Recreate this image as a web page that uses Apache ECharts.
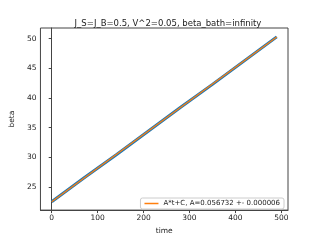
<!DOCTYPE html>
<html><head><meta charset="utf-8">
<script src="https://cdn.jsdelivr.net/npm/echarts@6/dist/echarts.min.js"></script>
<style>html,body{margin:0;padding:0;background:#fff}#c{width:320px;height:240px}</style>
</head><body><div id="c"></div>
<script>
var times = [0, 70, 140, 210, 280, 350, 420, 490];
var betaValues = [22.5, 26.5, 30.4, 34.4, 38.4, 42.3, 46.3, 50.3];
var fitTimes = [0, 490];
var fitValues = [22.5, 50.3];
var xTicks = [0, 100, 200, 300, 400, 500];
var yTicks = [25, 30, 35, 40, 45, 50];
var titleText = 'J_S=J_B=0.5, V^2=0.05, beta_bath=infinity';
var fitName = 'A*t+C, A=0.056732 +- 0.000006';

var font = 'DejaVu Sans';
var chart = echarts.init(document.getElementById('c'), null, {renderer: 'canvas'});
var axisCommon = {
  axisLine: {show: true, lineStyle: {color: '#444', width: 1}},
  axisTick: {show: true, inside: false, length: 3, lineStyle: {color: '#444'}},
  splitLine: {show: false},
  axisLabel: {color: '#222', fontSize: 7.5, fontFamily: font, margin: 4},
  nameTextStyle: {color: '#222', fontSize: 7.5, fontFamily: font}
};
chart.setOption({
  animation: false,
  backgroundColor: '#fff',
  title: {text: titleText, left: 163, top: 14, textAlign: 'center',
    textStyle: {fontSize: 8.5, fontWeight: 'normal', color: '#222', fontFamily: font}},
  grid: {left: 40, top: 28, right: 32, bottom: 27, show: true, borderColor: '#444', borderWidth: 1},
  legend: {data: [fitName], right: 36, bottom: 31, orient: 'vertical',
    icon: 'rect', itemWidth: 14, itemHeight: 1.5, itemGap: 2,
    borderColor: '#ccc', borderWidth: 1, borderRadius: 2, padding: [2, 4],
    textStyle: {fontSize: 7, color: '#222', fontFamily: font}},
  xAxis: Object.assign({}, axisCommon, {
    type: 'value', min: -24.5, max: 514.5, name: 'time', nameLocation: 'middle', nameGap: 14,
    axisTick: Object.assign({}, axisCommon.axisTick, {customValues: xTicks}),
    axisLabel: Object.assign({}, axisCommon.axisLabel, {customValues: xTicks})
  }),
  yAxis: Object.assign({}, axisCommon, {
    type: 'value', min: 21.1, max: 51.8, name: 'beta', nameLocation: 'middle', nameGap: 19,
    axisTick: Object.assign({}, axisCommon.axisTick, {customValues: yTicks}),
    axisLabel: Object.assign({}, axisCommon.axisLabel, {customValues: yTicks})
  }),
  series: [
    {name: 'data', type: 'line', showSymbol: false, data: times.map(function(t, i){return [t, betaValues[i]];}),
      lineStyle: {color: '#1f77b4', width: 3}, itemStyle: {color: '#1f77b4'}},
    {name: fitName, type: 'line', showSymbol: false, data: fitTimes.map(function(t, i){return [t, fitValues[i]];}),
      lineStyle: {color: '#ff7f0e', width: 1.2}, itemStyle: {color: '#ff7f0e'}}
  ]
});
</script></body></html>
